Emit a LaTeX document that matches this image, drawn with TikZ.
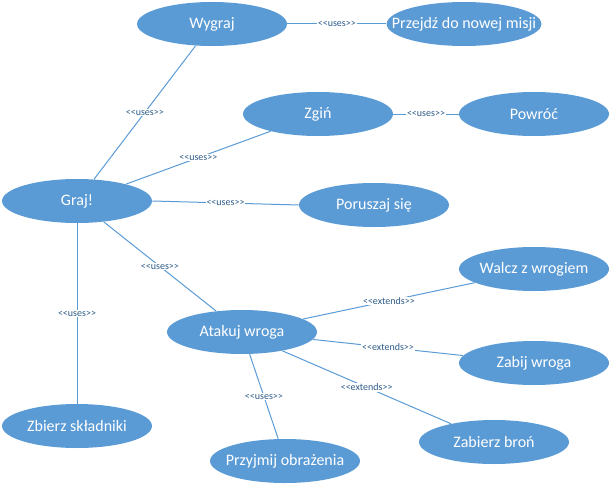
\documentclass[tikz,border=0pt]{standalone}
\usepackage{fontspec}
\setmainfont{Carlito}
\usetikzlibrary{shapes.geometric}
\definecolor{ucblue}{HTML}{5B9BD5}
\definecolor{tagblue}{HTML}{2E5C8A}
\newcommand{\stereo}[1]{<\kern0pt<#1>\kern0pt>}
\newcommand{\assoc}[3]
{
	\draw[link] (#1) -- node[tag]{\stereo{#3}} (#2)
}
\begin{document}
\begin{tikzpicture}[x=0.75pt, y=-0.75pt,
	usecase/.style={shape=ellipse, fill=ucblue, draw=none, text=white,
		font=\fontsize{12}{14}\selectfont,
		minimum width=112.5pt,
		minimum height=33pt,
		inner xsep=-13pt},
	link/.style={draw=ucblue, line width=0.75pt},
	tag/.style={fill=white, text=tagblue, inner sep=0.6pt, font=\fontsize{7.5}{8}\selectfont}]
	\useasboundingbox (0,0) rectangle (610,485);

	\node[usecase] (wygraj) at (212,24) {Wygraj};
	\node[usecase] (przejdz) at (464,24) {Przejdź do nowej misji};
	\node[usecase] (zgin) at (318,114) {Zgiń};
	\node[usecase] (powroc) at (534,114) {Powróć};
	\node[usecase] (graj) at (77,201) {Graj!};
	\node[usecase] (poruszaj) at (374,205) {Poruszaj się};
	\node[usecase] (walcz) at (534,269) {Walcz z wrogiem};
	\node[usecase] (atakuj) at (242,332) {Atakuj wroga};
	\node[usecase] (zabij) at (534,363) {Zabij wroga};
	\node[usecase] (zbierz) at (77,426) {Zbierz składniki};
	\node[usecase] (zabierz) at (494,442) {Zabierz broń};
	\node[usecase] (przyjmij) at (285,461) {Przyjmij obrażenia};

	\assoc{graj.52}{wygraj.233}{uses};
	\assoc{wygraj.east}{przejdz.west}{uses};
	\assoc{graj.19}{zgin.200}{uses};
	\assoc{zgin.east}{powroc.west}{uses};
	\assoc{graj.east}{poruszaj.west}{uses};
	\assoc{graj.-38}{atakuj.141}{uses};
	\assoc{graj.south}{zbierz.north}{uses};
	\assoc{atakuj.-71}{przyjmij.107}{uses};

	\assoc{atakuj.12}{walcz.193}{extends};
	\assoc{atakuj.-6}{zabij.174}{extends};
	\assoc{atakuj.-25}{zabierz.157}{extends};
\end{tikzpicture}
\end{document}
